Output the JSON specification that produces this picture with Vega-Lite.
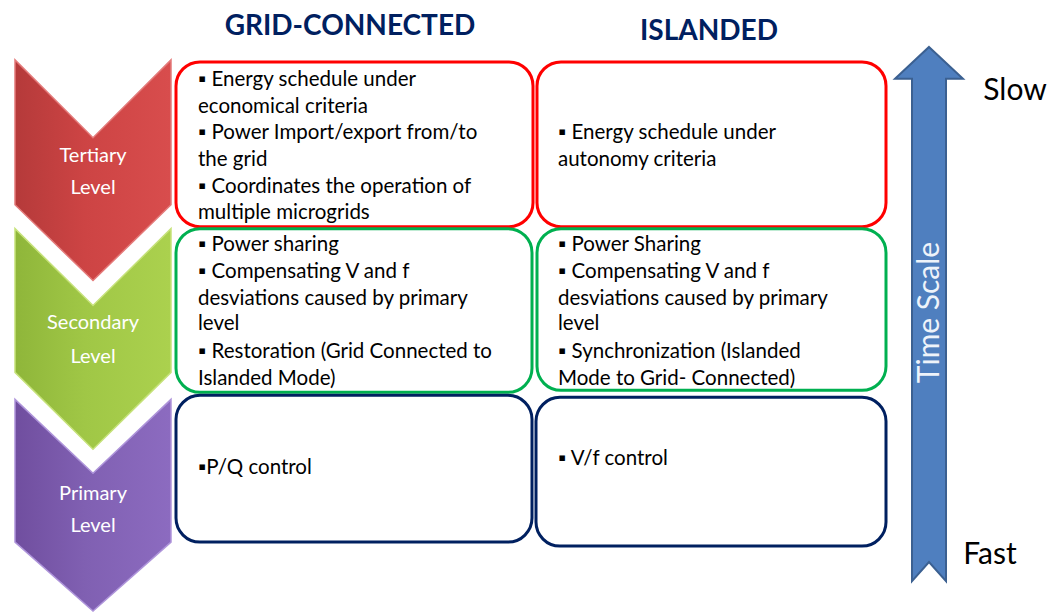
{
  "$schema": "https://vega.github.io/schema/vega-lite/v6.json",
  "width": 1063,
  "height": 614,
  "autosize": {"type": "fit", "contains": "padding"},
  "padding": 0,
  "background": "white",
  "config": {"view": {"stroke": null}},
  "datasets": {
    "chevrons": [
      {"level": "Tertiary", "x": 15, "top": 60, "bottom": 205},
      {"level": "Tertiary", "x": 93, "top": 138, "bottom": 281},
      {"level": "Tertiary", "x": 171, "top": 60, "bottom": 205},
      {"level": "Secondary", "x": 15, "top": 229, "bottom": 373},
      {"level": "Secondary", "x": 93, "top": 306, "bottom": 450},
      {"level": "Secondary", "x": 171, "top": 229, "bottom": 373},
      {"level": "Primary", "x": 15, "top": 400, "bottom": 543},
      {"level": "Primary", "x": 93, "top": 474, "bottom": 612},
      {"level": "Primary", "x": 171, "top": 400, "bottom": 543}
    ],
    "boxes": [
      {"mode": "Grid-connected", "level": "Tertiary", "x": 176, "x2": 533, "y": 62, "y2": 227},
      {"mode": "Islanded", "level": "Tertiary", "x": 537, "x2": 886, "y": 62, "y2": 227},
      {"mode": "Grid-connected", "level": "Secondary", "x": 176, "x2": 532, "y": 229, "y2": 393},
      {"mode": "Islanded", "level": "Secondary", "x": 537, "x2": 886, "y": 229, "y2": 391},
      {"mode": "Grid-connected", "level": "Primary", "x": 176, "x2": 532, "y": 396, "y2": 543},
      {"mode": "Islanded", "level": "Primary", "x": 536, "x2": 886, "y": 398, "y2": 547}
    ],
    "arrow": [
      {"i": 0, "x": 929, "y": 47},
      {"i": 1, "x": 963, "y": 79},
      {"i": 2, "x": 946, "y": 79},
      {"i": 3, "x": 946, "y": 582},
      {"i": 4, "x": 929, "y": 563},
      {"i": 5, "x": 912, "y": 582},
      {"i": 6, "x": 912, "y": 79},
      {"i": 7, "x": 895, "y": 79}
    ],
    "texts": [
      {"group": "body", "x": 198, "y": 80, "text": "▪ Energy schedule under"},
      {"group": "body", "x": 198, "y": 107, "text": "economical criteria"},
      {"group": "body", "x": 198, "y": 133, "text": "▪ Power Import/export from/to"},
      {"group": "body", "x": 198, "y": 160, "text": "the grid"},
      {"group": "body", "x": 198, "y": 187, "text": "▪ Coordinates the operation of"},
      {"group": "body", "x": 198, "y": 213, "text": "multiple microgrids"},
      {"group": "body", "x": 558, "y": 133, "text": "▪ Energy schedule under"},
      {"group": "body", "x": 558, "y": 160, "text": "autonomy criteria"},
      {"group": "body", "x": 198, "y": 245, "text": "▪ Power sharing"},
      {"group": "body", "x": 198, "y": 272, "text": "▪ Compensating V and f"},
      {"group": "body", "x": 198, "y": 299, "text": "desviations caused by primary"},
      {"group": "body", "x": 198, "y": 325, "text": "level"},
      {"group": "body", "x": 198, "y": 353, "text": "▪ Restoration (Grid Connected to"},
      {"group": "body", "x": 198, "y": 380, "text": "Islanded Mode)"},
      {"group": "body", "x": 558, "y": 245, "text": "▪ Power Sharing"},
      {"group": "body", "x": 558, "y": 272, "text": "▪ Compensating V and f"},
      {"group": "body", "x": 558, "y": 299, "text": "desviations caused by primary"},
      {"group": "body", "x": 558, "y": 325, "text": "level"},
      {"group": "body", "x": 558, "y": 353, "text": "▪ Synchronization (Islanded"},
      {"group": "body", "x": 558, "y": 380, "text": "Mode to Grid- Connected)"},
      {"group": "body", "x": 198, "y": 469, "text": "▪P/Q control"},
      {"group": "body", "x": 558, "y": 460, "text": "▪ V/f control"},
      {"group": "header", "x": 350, "y": 27, "text": "GRID-CONNECTED"},
      {"group": "header", "x": 709, "y": 32, "text": "ISLANDED"},
      {"group": "level", "x": 93, "y": 156, "text": "Tertiary"},
      {"group": "level", "x": 93, "y": 188, "text": "Level"},
      {"group": "level", "x": 93, "y": 324, "text": "Secondary"},
      {"group": "level", "x": 93, "y": 358, "text": "Level"},
      {"group": "level", "x": 93, "y": 495, "text": "Primary"},
      {"group": "level", "x": 93, "y": 527, "text": "Level"},
      {"group": "speed", "x": 1015, "y": 91, "text": "Slow"},
      {"group": "speed", "x": 990, "y": 556, "text": "Fast"},
      {"group": "axis", "x": 930, "y": 313, "text": "Time Scale"}
    ]
  },
  "encoding": {
    "x": {"type": "quantitative", "scale": {"domain": [0, 1063], "nice": false, "zero": false}, "axis": null},
    "y": {"type": "quantitative", "scale": {"domain": [614, 0], "nice": false, "zero": false}, "axis": null}
  },
  "layer": [
    {
      "data": {"name": "chevrons"},
      "transform": [{"filter": "datum.level === 'Tertiary'"}],
      "mark": {"type": "area", "interpolate": "linear", "stroke": "#e47a7a", "strokeWidth": 1.5,
        "fill": {"gradient": "linear", "x1": 0, "x2": 1, "y1": 0, "y2": 0,
          "stops": [{"offset": 0, "color": "#b53a3a"}, {"offset": 0.45, "color": "#cd4444"}, {"offset": 1, "color": "#d84d4d"}]}},
      "encoding": {"x": {"field": "x"}, "y": {"field": "top"}, "y2": {"field": "bottom"}}
    },
    {
      "data": {"name": "chevrons"},
      "transform": [{"filter": "datum.level === 'Secondary'"}],
      "mark": {"type": "area", "interpolate": "linear", "stroke": "#c6e27a", "strokeWidth": 1.5,
        "fill": {"gradient": "linear", "x1": 0, "x2": 1, "y1": 0, "y2": 0,
          "stops": [{"offset": 0, "color": "#8fb63a"}, {"offset": 0.45, "color": "#a0c746"}, {"offset": 1, "color": "#abd14e"}]}},
      "encoding": {"x": {"field": "x"}, "y": {"field": "top"}, "y2": {"field": "bottom"}}
    },
    {
      "data": {"name": "chevrons"},
      "transform": [{"filter": "datum.level === 'Primary'"}],
      "mark": {"type": "area", "interpolate": "linear", "stroke": "#ae94da", "strokeWidth": 1.5,
        "fill": {"gradient": "linear", "x1": 0, "x2": 1, "y1": 0, "y2": 0,
          "stops": [{"offset": 0, "color": "#704e9f"}, {"offset": 0.45, "color": "#8060b2"}, {"offset": 1, "color": "#8c6bc0"}]}},
      "encoding": {"x": {"field": "x"}, "y": {"field": "top"}, "y2": {"field": "bottom"}}
    },
    {
      "data": {"name": "boxes"},
      "mark": {"type": "rect", "fill": "white", "strokeWidth": 3, "cornerRadius": 24},
      "encoding": {
        "x": {"field": "x"}, "x2": {"field": "x2"},
        "y": {"field": "y"}, "y2": {"field": "y2"},
        "stroke": {"field": "level", "type": "nominal", "legend": null,
          "scale": {"domain": ["Tertiary", "Secondary", "Primary"], "range": ["#ff0000", "#00b050", "#002060"]}}
      }
    },
    {
      "data": {"name": "arrow"},
      "mark": {"type": "line", "interpolate": "linear-closed", "fill": "#4f7fbf", "stroke": "#3b6091", "strokeWidth": 2, "strokeJoin": "miter"},
      "encoding": {"x": {"field": "x"}, "y": {"field": "y"}, "order": {"field": "i", "type": "quantitative"}}
    },
    {
      "data": {"name": "texts"},
      "transform": [{"filter": "datum.group === 'body'"}],
      "mark": {"type": "text", "align": "left", "baseline": "middle", "font": "Lato", "fontSize": 20.5, "color": "#000000"},
      "encoding": {"x": {"field": "x"}, "y": {"field": "y"}, "text": {"field": "text"}}
    },
    {
      "data": {"name": "texts"},
      "transform": [{"filter": "datum.group === 'header'"}],
      "mark": {"type": "text", "align": "center", "baseline": "middle", "font": "Lato", "fontWeight": "bold", "fontSize": 28, "color": "#002060"},
      "encoding": {"x": {"field": "x"}, "y": {"field": "y"}, "text": {"field": "text"}}
    },
    {
      "data": {"name": "texts"},
      "transform": [{"filter": "datum.group === 'level'"}],
      "mark": {"type": "text", "align": "center", "baseline": "middle", "font": "Lato", "fontSize": 20, "color": "#ffffff"},
      "encoding": {"x": {"field": "x"}, "y": {"field": "y"}, "text": {"field": "text"}}
    },
    {
      "data": {"name": "texts"},
      "transform": [{"filter": "datum.group === 'speed'"}],
      "mark": {"type": "text", "align": "center", "baseline": "middle", "font": "Lato", "fontSize": 30, "color": "#000000"},
      "encoding": {"x": {"field": "x"}, "y": {"field": "y"}, "text": {"field": "text"}}
    },
    {
      "data": {"name": "texts"},
      "transform": [{"filter": "datum.group === 'axis'"}],
      "mark": {"type": "text", "align": "center", "baseline": "middle", "angle": 270, "font": "Lato", "fontSize": 30, "color": "#eef3fa"},
      "encoding": {"x": {"field": "x"}, "y": {"field": "y"}, "text": {"field": "text"}}
    }
  ]
}
